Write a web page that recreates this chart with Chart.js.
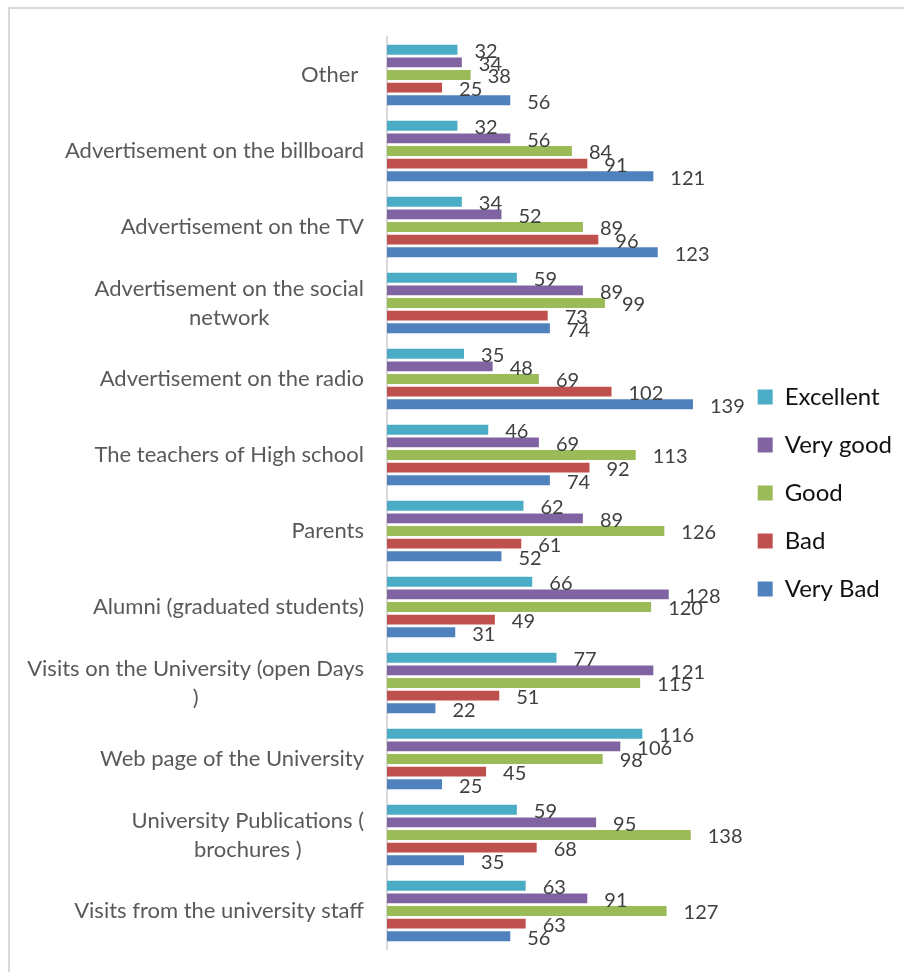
<!DOCTYPE html>
<html>
<head>
<meta charset="utf-8">
<script src="https://cdn.jsdelivr.net/npm/chart.js@4.4.0/dist/chart.umd.min.js"></script>
<style>
  body { margin: 0; background: #fff; font-family: Lato; }
  #frame { position: absolute; left: 8px; top: 7px; width: 1000px; height: 1000px; border: 2px solid #d9d9d9; }
  #c { position: absolute; left: 0; top: 0; }
</style>
</head>
<body>
<div id="frame"></div>
<canvas id="c" width="904" height="972"></canvas>
<script>
// --- Категории (сверху вниз) ---
const categories = [
  ['Other '],
  ['Advertisement on the billboard'],
  ['Advertisement on the TV'],
  ['Advertisement on the social', 'network'],
  ['Advertisement on the radio'],
  ['The teachers of High school'],
  ['Parents'],
  ['Alumni (graduated students)'],
  ['Visits on the University (open Days', ')'],
  ['Web page of the University'],
  ['University Publications (', 'brochures )'],
  ['Visits from the university staff']
];

// --- Серии ---
const seriesNames = ['Excellent', 'Very good', 'Good', 'Bad', 'Very Bad'];
const excellent = [32, 32, 34, 59, 35, 46, 62, 66, 77, 116, 59, 63];
const veryGood  = [34, 56, 52, 89, 48, 69, 89, 128, 121, 106, 95, 91];
const good      = [38, 84, 89, 99, 69, 113, 126, 120, 115, 98, 138, 127];
const bad       = [25, 91, 96, 73, 102, 92, 61, 49, 51, 45, 68, 63];
const veryBad   = [56, 121, 123, 74, 139, 74, 52, 31, 22, 25, 35, 56];

const colors = ['#4bacc6', '#8064a2', '#9bbb59', '#c0504d', '#4f81bd'];
const FONT = 'Lato';

// --- Подписи значений у конца столбцов ---
const valueLabels = {
  id: 'valueLabels',
  afterDatasetsDraw(chart) {
    const ctx = chart.ctx;
    ctx.save();
    ctx.font = '20px ' + FONT;
    ctx.fillStyle = '#404040';
    ctx.textAlign = 'left';
    ctx.textBaseline = 'middle';
    chart.data.datasets.forEach((ds, i) => {
      chart.getDatasetMeta(i).data.forEach((bar, j) => {
        ctx.fillText(String(ds.data[j]), bar.x + 17, bar.y + 2);
      });
    });
    ctx.restore();
  }
};

// --- Подписи категорий (многострочные — по центру) ---
const categoryLabels = {
  id: 'categoryLabels',
  afterDraw(chart) {
    const ctx = chart.ctx;
    const y = chart.scales.y;
    const right = chart.chartArea.left - 23;
    ctx.save();
    ctx.font = '22px ' + FONT;
    ctx.fillStyle = '#595959';
    ctx.textBaseline = 'middle';
    const lh = 29;
    categories.forEach((lines, i) => {
      const cy = y.getPixelForTick(i);
      const w = Math.max(...lines.map(l => ctx.measureText(l).width));
      lines.forEach((l, k) => {
        const ly = cy + (k - (lines.length - 1) / 2) * lh;
        if (lines.length === 1) {
          ctx.textAlign = 'right';
          ctx.fillText(l, right, ly);
        } else {
          ctx.textAlign = 'center';
          ctx.fillText(l, right - w / 2, ly);
        }
      });
    });
    ctx.restore();
  }
};

const values = [excellent, veryGood, good, bad, veryBad];

function draw() {
  new Chart(document.getElementById('c'), {
    type: 'bar',
    data: {
      labels: categories,
      datasets: seriesNames.map((name, i) => ({
        label: name,
        data: values[i],
        backgroundColor: colors[i],
        borderWidth: 0,
        categoryPercentage: 0.83,
        barPercentage: 0.79
      }))
    },
    options: {
      indexAxis: 'y',
      responsive: false,
      animation: false,
      layout: { padding: { left: 387, top: 37, bottom: 23, right: 2 } },
      scales: {
        x: { display: false, min: 0, max: 157.5 },
        y: {
          grid: { display: false, drawTicks: false },
          border: { display: true, color: '#d9d9d9', width: 2 },
          ticks: { display: false },
          afterFit(scale) { scale.width = 0; }
        }
      },
      plugins: {
        legend: {
          position: 'right',
          maxWidth: 260,
          labels: {
            boxWidth: 15,
            boxHeight: 15,
            padding: 24,
            color: '#111',
            font: { family: FONT, size: 24 }
          }
        },
        tooltip: { enabled: false }
      }
    },
    plugins: [valueLabels, categoryLabels]
  });
}

Promise.all([
  document.fonts.load('20px Lato'),
  document.fonts.load('22px Lato'),
  document.fonts.load('24px Lato')
]).then(draw, draw);
</script>
</body>
</html>
